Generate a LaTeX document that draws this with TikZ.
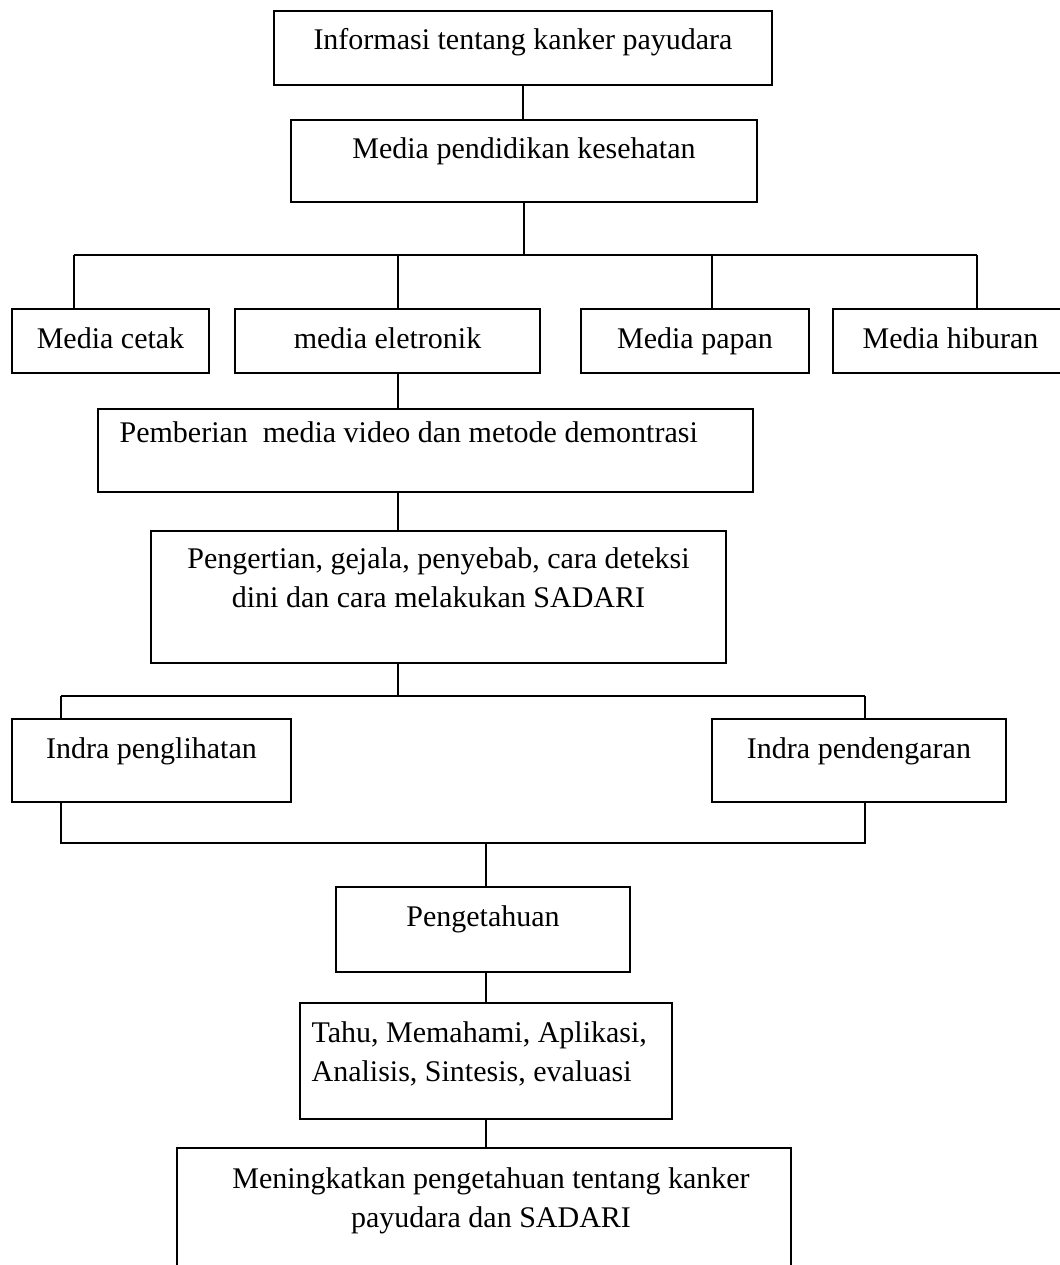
\documentclass[tikz,border=0pt]{standalone}
\usepackage{fontspec}
\setmainfont{Liberation Serif}
\usepackage{tikz}
\usetikzlibrary{positioning,fit}

\tikzset{
  kotak/.style={draw, line width=0.8pt, inner sep=0pt, rectangle},
  teks/.style={inner sep=0pt, align=center, font=\fontsize{15pt}{19.5pt}\selectfont},
  garis/.style={line width=0.8pt},
}

\begin{document}
\begin{tikzpicture}[x=0.5pt, y=-0.5pt]
\useasboundingbox (0,0) rectangle (1060,1265);
\clip (0,0) rectangle (1060,1265);

% kotak-kotak
\node[kotak, fit={(274,11) (772,85)}] (info) {};
\node[kotak, fit={(291,120) (757,202)}] (mpend) {};
\node[kotak, fit={(12,309) (209,373)}] (cetak) {};
\node[kotak, fit={(235,309) (540,373)}] (elek) {};
\node[kotak, fit={(581,309) (809,373)}] (papan) {};
\node[kotak, fit={(833,309) (1064,373)}] (hibur) {};
\node[kotak, fit={(98,409) (753,492)}] (beri) {};
\node[kotak, fit={(151,531) (726,663)}] (erti) {};
\node[kotak, fit={(12,719) (291,802)}] (lihat) {};
\node[kotak, fit={(712,719) (1006,802)}] (dengar) {};
\node[kotak, fit={(336,887) (630,972)}] (tahu) {};
\node[kotak, fit={(300,1003) (672,1119)}] (ranah) {};
\node[kotak, fit={(177,1148) (791,1300)}] (hasil) {};

% teks
\node[teks, below=9pt of info.north] (infoT) {Informasi tentang kanker payudara};
\node[teks, below=9pt of mpend.north] (mpendT) {Media pendidikan kesehatan};
\node[teks, below=9.5pt of cetak.north] (cetakT) {Media cetak};
\node[teks, below=9.5pt of elek.north] (elekT) {media eletronik};
\node[teks, below=9.5pt of papan.north] (papanT) {Media papan};
\node[teks, below=9.5pt of hibur.north, xshift=1pt] (hiburT) {Media hiburan};
\node[teks, anchor=north west] (beriT) at ([xshift=11pt, yshift=-6.5pt]beri.north west)
  {Pemberian~ media video dan metode demontrasi};
\node[teks, below=8.5pt of erti.north] (ertiT)
  {Pengertian, gejala, penyebab, cara deteksi\\dini dan cara melakukan SADARI};
\node[teks, below=9.5pt of lihat.north] (lihatT) {Indra penglihatan};
\node[teks, below=9.5pt of dengar.north] (dengarT) {Indra pendengaran};
\node[teks, below=9.5pt of tahu.north] (tahuT) {Pengetahuan};
\node[teks, align=left, anchor=north west] (ranahT) at ([xshift=6pt, yshift=-9.5pt]ranah.north west)
  {Tahu, Memahami, Aplikasi,\\Analisis, Sintesis, evaluasi};
\node[teks, below=10pt of hasil.north, xshift=3.5pt] (hasilT)
  {Meningkatkan pengetahuan tentang kanker\\payudara dan SADARI};

% titik cabang
\coordinate (b1) at (74,255);
\coordinate (b2) at (398,255);
\coordinate (b3) at (712,255);
\coordinate (b4) at (977,255);
\coordinate (c1) at (61,696);
\coordinate (c2) at (865,696);
\coordinate (d1) at (61,843);
\coordinate (d2) at (865,843);
\coordinate (d0) at (486,843);

% garis
\draw[garis] (info.south) -- (info.south |- mpend.north);
\draw[garis] (mpend.south) -- (mpend.south |- b1);
\draw[garis] (b1) -- (b4);
\draw[garis] (b1) -- (b1 |- cetak.north);
\draw[garis] (b2) -- (b2 |- elek.north);
\draw[garis] (b3) -- (b3 |- papan.north);
\draw[garis] (b4) -- (b4 |- hibur.north);
\draw[garis] (elek.south -| b2) -- (beri.north -| b2);
\draw[garis] (beri.south -| b2) -- (erti.north -| b2);
\draw[garis] (erti.south -| b2) -- (b2 |- c1);
\draw[garis] (c1) -- (c2);
\draw[garis] (c1) -- (c1 |- lihat.north);
\draw[garis] (c2) -- (c2 |- dengar.north);
\draw[garis] (lihat.south -| d1) -- (d1) -- (d2) -- (dengar.south -| d2);
\draw[garis] (d0) -- (d0 |- tahu.north);
\draw[garis] (tahu.south -| d0) -- (ranah.north -| d0);
\draw[garis] (ranah.south -| d0) -- (hasil.north -| d0);

\end{tikzpicture}
\end{document}
